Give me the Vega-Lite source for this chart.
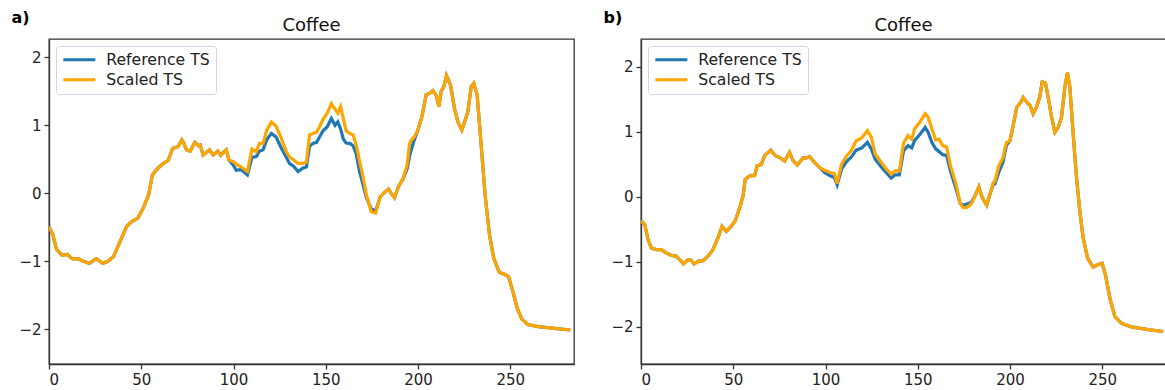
{
  "$schema": "https://vega.github.io/schema/vega-lite/v6.json",
  "background": "white",
  "padding": {"left": 10, "top": 8, "right": 0, "bottom": 0},
  "spacing": 27,
  "config": {
    "font": "DejaVu Sans",
    "view": {"stroke": "#333333", "strokeWidth": 1.3},
    "axis": {"grid": false, "domainColor": "#333333", "domainWidth": 1.3, "tickColor": "#333333", "tickSize": 5, "tickWidth": 1.3, "labelFontSize": 15, "labelColor": "#222222", "labelFont": "DejaVu Sans", "labelPadding": 3},
    "title": {"fontSize": 18, "fontWeight": "normal", "font": "DejaVu Sans", "color": "#111111", "anchor": "middle"}
  },
  "datasets": {
    "a": [
      {"t":0,"ref":-0.49,"scaled":-0.49},{"t":2,"ref":-0.6,"scaled":-0.6},{"t":4,"ref":-0.82,"scaled":-0.82},{"t":7,"ref":-0.91,"scaled":-0.91},{"t":10,"ref":-0.9,"scaled":-0.9},{"t":12,"ref":-0.95,"scaled":-0.95},{"t":13,"ref":-0.965,"scaled":-0.965},{"t":16,"ref":-0.965,"scaled":-0.965},{"t":18,"ref":-0.99,"scaled":-0.99},{"t":22,"ref":-1.03,"scaled":-1.03},{"t":25,"ref":-0.97,"scaled":-0.97},{"t":26,"ref":-0.965,"scaled":-0.965},{"t":29,"ref":-1.03,"scaled":-1.03},{"t":32,"ref":-1.0,"scaled":-1.0},{"t":35,"ref":-0.93,"scaled":-0.93},{"t":38,"ref":-0.74,"scaled":-0.74},{"t":42,"ref":-0.49,"scaled":-0.49},{"t":45,"ref":-0.41,"scaled":-0.41},{"t":48,"ref":-0.37,"scaled":-0.37},{"t":51,"ref":-0.22,"scaled":-0.22},{"t":54,"ref":-0.02,"scaled":-0.02},{"t":56,"ref":0.27,"scaled":0.27},{"t":59,"ref":0.37,"scaled":0.37},{"t":62,"ref":0.44,"scaled":0.44},{"t":64.5,"ref":0.48,"scaled":0.48},{"t":67,"ref":0.66,"scaled":0.66},{"t":70,"ref":0.69,"scaled":0.69},{"t":72,"ref":0.785,"scaled":0.785},{"t":73,"ref":0.74,"scaled":0.74},{"t":74.5,"ref":0.64,"scaled":0.64},{"t":76.5,"ref":0.62,"scaled":0.62},{"t":79,"ref":0.75,"scaled":0.75},{"t":81,"ref":0.7,"scaled":0.7},{"t":82,"ref":0.71,"scaled":0.71},{"t":83.5,"ref":0.565,"scaled":0.565},{"t":87,"ref":0.64,"scaled":0.64},{"t":89,"ref":0.565,"scaled":0.565},{"t":91.5,"ref":0.62,"scaled":0.62},{"t":93,"ref":0.56,"scaled":0.56},{"t":96,"ref":0.64,"scaled":0.64},{"t":97.5,"ref":0.49,"scaled":0.49},
      {"t":99.7,"ref":0.42,"scaled":0.47},{"t":101.5,"ref":0.34,"scaled":0.43},{"t":104,"ref":0.35,"scaled":0.39},{"t":107.5,"ref":0.27,"scaled":0.32},{"t":110,"ref":0.53,"scaled":0.65},{"t":112.3,"ref":0.54,"scaled":0.61},{"t":114,"ref":0.62,"scaled":0.735},{"t":116,"ref":0.64,"scaled":0.735},{"t":118,"ref":0.79,"scaled":0.93},{"t":120.5,"ref":0.88,"scaled":1.05},{"t":123,"ref":0.83,"scaled":0.99},{"t":126,"ref":0.66,"scaled":0.8},{"t":128.6,"ref":0.53,"scaled":0.61},{"t":130.3,"ref":0.44,"scaled":0.54},{"t":132.5,"ref":0.4,"scaled":0.49},{"t":135,"ref":0.32,"scaled":0.44},{"t":137.5,"ref":0.37,"scaled":0.44},{"t":139.5,"ref":0.39,"scaled":0.46},{"t":141.2,"ref":0.69,"scaled":0.86},{"t":143,"ref":0.735,"scaled":0.88},{"t":145,"ref":0.75,"scaled":0.9},{"t":146.6,"ref":0.83,"scaled":0.98},{"t":148.5,"ref":0.92,"scaled":1.09},{"t":150.8,"ref":0.98,"scaled":1.18},{"t":153,"ref":1.1,"scaled":1.32},{"t":155,"ref":1.0,"scaled":1.24},{"t":156.5,"ref":1.05,"scaled":1.18},{"t":158,"ref":0.95,"scaled":1.275},{"t":159.5,"ref":0.8,"scaled":1.1},{"t":161,"ref":0.74,"scaled":0.92},{"t":163,"ref":0.735,"scaled":0.88},{"t":164.8,"ref":0.7,"scaled":0.86},{"t":166.5,"ref":0.58,"scaled":0.71},{"t":168.3,"ref":0.32,"scaled":0.47},{"t":169.5,"ref":0.2,"scaled":0.33},{"t":172,"ref":-0.06,"scaled":-0.02},{"t":174.6,"ref":-0.23,"scaled":-0.27},{"t":177,"ref":-0.26,"scaled":-0.29},{"t":179.5,"ref":-0.05,"scaled":-0.05},
      {"t":181.7,"ref":0.01,"scaled":0.01},{"t":184,"ref":0.065,"scaled":0.065},{"t":185.4,"ref":0,"scaled":0},{"t":187.2,"ref":-0.065,"scaled":-0.065},{"t":189.4,"ref":0.1,"scaled":0.1},{"t":191.8,"ref":0.21,"scaled":0.21},{"t":194.1,"ref":0.36,"scaled":0.42},{"t":195.4,"ref":0.55,"scaled":0.735},{"t":196.3,"ref":0.64,"scaled":0.78},{"t":198,"ref":0.79,"scaled":0.83},{"t":199.9,"ref":0.93,"scaled":0.93},{"t":202.1,"ref":1.13,"scaled":1.13},{"t":204.4,"ref":1.45,"scaled":1.45},{"t":206.2,"ref":1.47,"scaled":1.47},{"t":208,"ref":1.51,"scaled":1.51},{"t":209.8,"ref":1.44,"scaled":1.44},{"t":211.3,"ref":1.275,"scaled":1.275},{"t":212.5,"ref":1.5,"scaled":1.5},{"t":214,"ref":1.57,"scaled":1.57},{"t":215.4,"ref":1.73,"scaled":1.73},{"t":217.6,"ref":1.59,"scaled":1.59},{"t":219.7,"ref":1.25,"scaled":1.25},{"t":221.6,"ref":1.05,"scaled":1.05},{"t":223.7,"ref":0.93,"scaled":0.93},{"t":225.2,"ref":1.05,"scaled":1.05},{"t":227,"ref":1.2,"scaled":1.2},{"t":228.8,"ref":1.57,"scaled":1.57},{"t":230.2,"ref":1.62,"scaled":1.62},{"t":232,"ref":1.45,"scaled":1.45},{"t":234.2,"ref":0.71,"scaled":0.71},{"t":236.3,"ref":-0.02,"scaled":-0.02},{"t":238.7,"ref":-0.61,"scaled":-0.61},{"t":241,"ref":-0.955,"scaled":-0.955},{"t":244,"ref":-1.16,"scaled":-1.16},{"t":246.8,"ref":-1.19,"scaled":-1.19},{"t":249,"ref":-1.225,"scaled":-1.225},{"t":251.4,"ref":-1.445,"scaled":-1.445},{"t":253.7,"ref":-1.69,"scaled":-1.69},{"t":256.2,"ref":-1.85,"scaled":-1.85},{"t":259.5,"ref":-1.93,"scaled":-1.93},{"t":265,"ref":-1.96,"scaled":-1.96},{"t":274,"ref":-1.985,"scaled":-1.985},{"t":282.5,"ref":-2.01,"scaled":-2.01}
    ],
    "b": [
      {"t":0,"ref":-0.37,"scaled":-0.37},{"t":2,"ref":-0.42,"scaled":-0.42},{"t":3.8,"ref":-0.655,"scaled":-0.655},{"t":5.6,"ref":-0.785,"scaled":-0.785},{"t":8.3,"ref":-0.81,"scaled":-0.81},{"t":11,"ref":-0.81,"scaled":-0.81},{"t":13.7,"ref":-0.86,"scaled":-0.86},{"t":16.4,"ref":-0.9,"scaled":-0.9},{"t":19,"ref":-0.91,"scaled":-0.91},{"t":21,"ref":-0.965,"scaled":-0.965},{"t":23,"ref":-1.03,"scaled":-1.03},{"t":25.5,"ref":-0.965,"scaled":-0.965},{"t":27,"ref":-0.97,"scaled":-0.97},{"t":28.7,"ref":-1.03,"scaled":-1.03},{"t":31,"ref":-0.99,"scaled":-0.99},{"t":33.6,"ref":-0.98,"scaled":-0.98},{"t":36.3,"ref":-0.91,"scaled":-0.91},{"t":39,"ref":-0.81,"scaled":-0.81},{"t":41.7,"ref":-0.63,"scaled":-0.63},{"t":43.9,"ref":-0.45,"scaled":-0.45},{"t":46.2,"ref":-0.53,"scaled":-0.53},{"t":49,"ref":-0.45,"scaled":-0.45},{"t":51,"ref":-0.37,"scaled":-0.37},{"t":53.5,"ref":-0.165,"scaled":-0.165},{"t":55.3,"ref":0.015,"scaled":0.015},{"t":56.5,"ref":0.27,"scaled":0.27},{"t":59,"ref":0.325,"scaled":0.325},{"t":61.6,"ref":0.33,"scaled":0.33},{"t":63,"ref":0.48,"scaled":0.48},{"t":65.2,"ref":0.5,"scaled":0.5},{"t":67,"ref":0.635,"scaled":0.635},{"t":70.3,"ref":0.72,"scaled":0.72},{"t":72.8,"ref":0.635,"scaled":0.635},{"t":75,"ref":0.61,"scaled":0.61},{"t":77.8,"ref":0.55,"scaled":0.55},{"t":80.5,"ref":0.685,"scaled":0.685},{"t":82.4,"ref":0.56,"scaled":0.56},{"t":84.7,"ref":0.49,"scaled":0.49},{"t":87.8,"ref":0.6,"scaled":0.6},{"t":89.6,"ref":0.6,"scaled":0.6},{"t":91.4,"ref":0.62,"scaled":0.62},{"t":94,"ref":0.53,"scaled":0.53},{"t":96.8,"ref":0.455,"scaled":0.455},
      {"t":99.5,"ref":0.375,"scaled":0.41},{"t":102.5,"ref":0.325,"scaled":0.375},{"t":104.8,"ref":0.3,"scaled":0.36},{"t":106.3,"ref":0.185,"scaled":0.205},{"t":108.7,"ref":0.43,"scaled":0.505},{"t":111.5,"ref":0.55,"scaled":0.635},{"t":113.9,"ref":0.61,"scaled":0.71},{"t":116.6,"ref":0.72,"scaled":0.865},{"t":119.7,"ref":0.755,"scaled":0.91},{"t":122.7,"ref":0.84,"scaled":1.02},{"t":124.8,"ref":0.74,"scaled":0.92},{"t":126.9,"ref":0.58,"scaled":0.66},{"t":130.2,"ref":0.46,"scaled":0.53},{"t":132.9,"ref":0.375,"scaled":0.43},{"t":135.6,"ref":0.29,"scaled":0.35},{"t":137.7,"ref":0.34,"scaled":0.4},{"t":140,"ref":0.34,"scaled":0.4},{"t":142.3,"ref":0.71,"scaled":0.83},{"t":144.7,"ref":0.79,"scaled":0.945},{"t":146.7,"ref":0.755,"scaled":0.89},{"t":148.3,"ref":0.87,"scaled":1.05},{"t":151.1,"ref":0.96,"scaled":1.15},{"t":154,"ref":1.07,"scaled":1.28},{"t":155.6,"ref":0.995,"scaled":1.23},{"t":157.6,"ref":0.84,"scaled":1.05},{"t":159.7,"ref":0.74,"scaled":0.875},{"t":161.5,"ref":0.7,"scaled":0.89},{"t":163.5,"ref":0.65,"scaled":0.79},{"t":165.6,"ref":0.64,"scaled":0.77},{"t":167.7,"ref":0.4,"scaled":0.48},{"t":170.5,"ref":0.145,"scaled":0.22},{"t":173,"ref":-0.1,"scaled":-0.1},{"t":174.5,"ref":-0.13,"scaled":-0.165},{"t":176.5,"ref":-0.11,"scaled":-0.16},{"t":178.8,"ref":-0.09,"scaled":-0.115},{"t":181,"ref":0.015,"scaled":0.015},
      {"t":183.1,"ref":0.155,"scaled":0.155},{"t":184.9,"ref":-0.01,"scaled":-0.01},{"t":187.3,"ref":-0.125,"scaled":-0.125},{"t":189.1,"ref":0.04,"scaled":0.04},{"t":190.9,"ref":0.2,"scaled":0.22},{"t":191.8,"ref":0.2,"scaled":0.24},{"t":193.9,"ref":0.38,"scaled":0.48},{"t":196.3,"ref":0.55,"scaled":0.61},{"t":197.2,"ref":0.685,"scaled":0.75},{"t":198.1,"ref":0.8,"scaled":0.84},{"t":199.9,"ref":0.86,"scaled":0.86},{"t":201.7,"ref":1.1,"scaled":1.1},{"t":203.6,"ref":1.38,"scaled":1.38},{"t":205.9,"ref":1.46,"scaled":1.46},{"t":207.1,"ref":1.53,"scaled":1.53},{"t":209.5,"ref":1.44,"scaled":1.44},{"t":210.8,"ref":1.41,"scaled":1.41},{"t":212.5,"ref":1.28,"scaled":1.28},{"t":214.3,"ref":1.38,"scaled":1.38},{"t":216.1,"ref":1.54,"scaled":1.54},{"t":217.4,"ref":1.77,"scaled":1.77},{"t":219.2,"ref":1.75,"scaled":1.75},{"t":220.6,"ref":1.54,"scaled":1.54},{"t":222.5,"ref":1.23,"scaled":1.23},{"t":224.3,"ref":0.995,"scaled":0.995},{"t":226.1,"ref":1.07,"scaled":1.07},{"t":227.9,"ref":1.23,"scaled":1.23},{"t":229.7,"ref":1.69,"scaled":1.69},{"t":231.1,"ref":1.91,"scaled":1.91},{"t":232.4,"ref":1.69,"scaled":1.69},{"t":234.2,"ref":0.97,"scaled":0.97},{"t":236,"ref":0.3,"scaled":0.3},{"t":237.8,"ref":-0.22,"scaled":-0.22},{"t":239.6,"ref":-0.63,"scaled":-0.63},{"t":242,"ref":-0.94,"scaled":-0.94},{"t":245,"ref":-1.08,"scaled":-1.08},{"t":247.7,"ref":-1.04,"scaled":-1.04},{"t":249.9,"ref":-1.02,"scaled":-1.02},{"t":251.7,"ref":-1.2,"scaled":-1.2},{"t":254.1,"ref":-1.56,"scaled":-1.56},{"t":256.8,"ref":-1.84,"scaled":-1.84},{"t":260.4,"ref":-1.945,"scaled":-1.945},{"t":265.8,"ref":-2.0,"scaled":-2.0},{"t":274.8,"ref":-2.04,"scaled":-2.04},{"t":283,"ref":-2.07,"scaled":-2.07}
    ]
  },
  "resolve": {"scale": {"color": "independent"}, "legend": {"color": "independent"}},
  "hconcat": [
    {
      "data": {"name": "a"},
      "width": 525,
      "height": 325,
      "title": {"text": "Coffee", "offset": -26},
      "transform": [{"fold": ["ref", "scaled"], "as": ["series", "v"]}],
      "mark": {"type": "line", "strokeWidth": 3.2, "clip": true},
      "encoding": {
        "x": {"field": "t", "type": "quantitative", "scale": {"domain": [0, 284.5], "nice": false, "zero": false}, "axis": {"values": [0, 50, 100, 150, 200, 250], "title": null}},
        "y": {"field": "v", "type": "quantitative", "scale": {"domain": [-2.51, 2.27], "nice": false, "zero": false}, "axis": {"values": [-2, -1, 0, 1, 2], "title": "a)", "titleAngle": 0, "titleX": -38, "titleY": -17, "titleAlign": "left", "titleBaseline": "alphabetic", "titleFontSize": 16, "titleFontWeight": "bold", "titleColor": "#000000", "titleFont": "DejaVu Sans"}},
        "color": {"field": "series", "type": "nominal", "scale": {"domain": ["ref", "scaled"], "range": ["#1f77b4", "#ffa500"]}, "legend": {"orient": "top-left", "offset": 7, "title": null, "symbolType": "M-2.667,0H2.667", "symbolSize": 144, "symbolOffset": 9.5, "symbolStrokeWidth": 3, "symbolFillColor": "transparent", "labelFontSize": 15.7, "labelFont": "DejaVu Sans", "labelColor": "#222222", "labelOffset": 19, "rowPadding": 3, "padding": 6, "fillColor": "white", "strokeColor": "#d4d4ee", "cornerRadius": 3, "labelExpr": "datum.label == 'ref' ? 'Reference TS' : 'Scaled TS'"}}
      }
    },
    {
      "data": {"name": "b"},
      "width": 525,
      "height": 325,
      "title": {"text": "Coffee", "offset": -26},
      "transform": [{"fold": ["ref", "scaled"], "as": ["series", "v"]}],
      "mark": {"type": "line", "strokeWidth": 3.2, "clip": true},
      "encoding": {
        "x": {"field": "t", "type": "quantitative", "scale": {"domain": [0, 284.5], "nice": false, "zero": false}, "axis": {"values": [0, 50, 100, 150, 200, 250], "title": null}},
        "y": {"field": "v", "type": "quantitative", "scale": {"domain": [-2.57, 2.43], "nice": false, "zero": false}, "axis": {"values": [-2, -1, 0, 1, 2], "title": "b)", "titleAngle": 0, "titleX": -38, "titleY": -17, "titleAlign": "left", "titleBaseline": "alphabetic", "titleFontSize": 16, "titleFontWeight": "bold", "titleColor": "#000000", "titleFont": "DejaVu Sans"}},
        "color": {"field": "series", "type": "nominal", "scale": {"domain": ["ref", "scaled"], "range": ["#1f77b4", "#ffa500"]}, "legend": {"orient": "top-left", "offset": 7, "title": null, "symbolType": "M-2.667,0H2.667", "symbolSize": 144, "symbolOffset": 9.5, "symbolStrokeWidth": 3, "symbolFillColor": "transparent", "labelFontSize": 15.7, "labelFont": "DejaVu Sans", "labelColor": "#222222", "labelOffset": 19, "rowPadding": 3, "padding": 6, "fillColor": "white", "strokeColor": "#d4d4ee", "cornerRadius": 3, "labelExpr": "datum.label == 'ref' ? 'Reference TS' : 'Scaled TS'"}}
      }
    }
  ]
}
